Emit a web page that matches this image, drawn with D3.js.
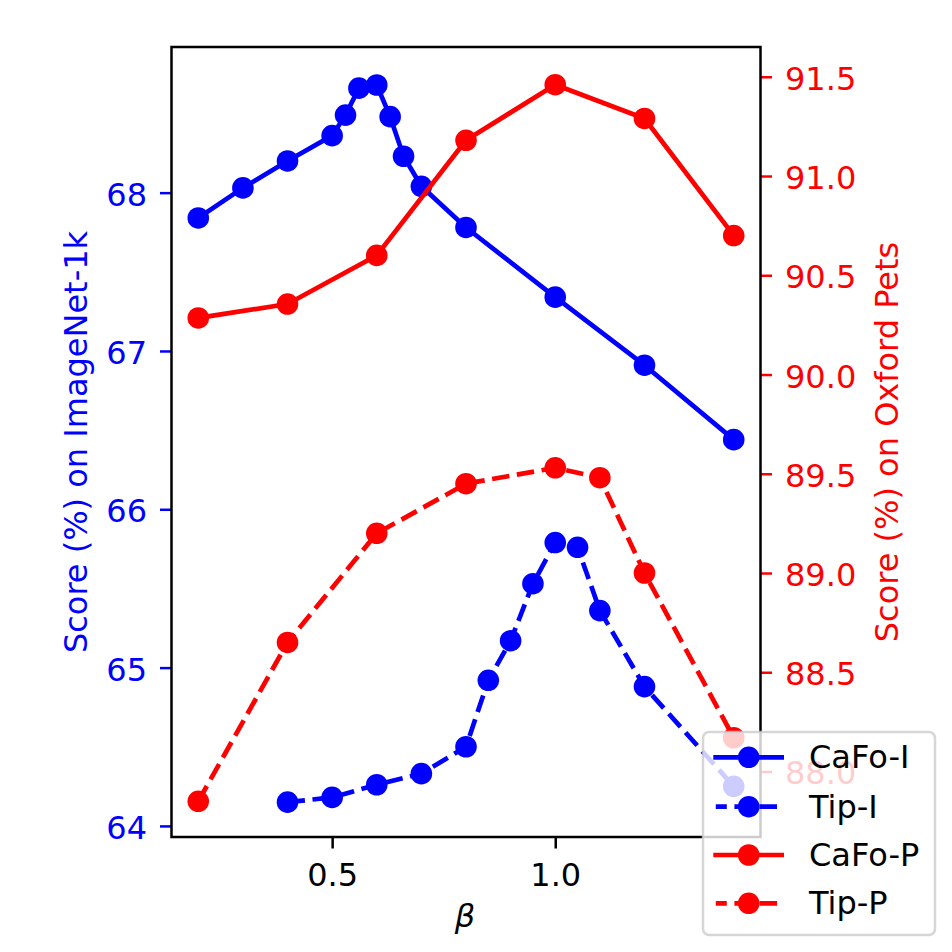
<!DOCTYPE html>
<html>
<head>
<meta charset="utf-8">
<script src="https://cdn.jsdelivr.net/npm/d3@7"></script>
<style>
  html, body { margin: 0; padding: 0; background: #fff; }
  svg { display: block; }
  text { font-family: "DejaVu Sans", sans-serif; }
</style>
</head>
<body>
<svg id="chart" width="952" height="952"></svg>
<script>
// ---- data ----
const cafoIx = [0.2, 0.3, 0.4, 0.5, 0.53, 0.56, 0.6, 0.63, 0.66, 0.7, 0.8, 1.0, 1.2, 1.4];
const cafoI  = [67.84, 68.03, 68.20, 68.36, 68.49, 68.66, 68.68, 68.48, 68.23, 68.04, 67.78, 67.34, 66.91, 66.44];
const tipIx  = [0.4, 0.5, 0.6, 0.7, 0.8, 0.85, 0.9, 0.95, 1.0, 1.05, 1.1, 1.2, 1.4];
const tipI   = [64.15, 64.18, 64.26, 64.33, 64.50, 64.92, 65.17, 65.53, 65.79, 65.76, 65.36, 64.88, 64.25];
const cafoPx = [0.2, 0.4, 0.6, 0.8, 1.0, 1.2, 1.4];
const cafoP  = [90.285, 90.355, 90.60, 91.18, 91.46, 91.29, 90.70];
const tipPx  = [0.2, 0.4, 0.6, 0.8, 1.0, 1.1, 1.2, 1.4];
const tipP   = [87.85, 88.65, 89.20, 89.45, 89.53, 89.48, 89.00, 88.17];
const xTicks = [0.5, 1.0];
const leftTicks = [64, 65, 66, 67, 68];
const rightTicks = [88.0, 88.5, 89.0, 89.5, 90.0, 90.5, 91.0, 91.5];
const legendLabels = ["CaFo-I", "Tip-I", "CaFo-P", "Tip-P"];

// ---- layout ----
const L = 171.5, R = 760.5, T = 47, B = 837;
const FS = 32;
const BLUE = "#0000ff", RED = "#ff0000";
const LW = 4.7, MR = 10.8, DASH = "17.5,7.6";

const svg = d3.select("#chart");
const x = d3.scaleLinear().domain([0.14, 1.46]).range([L, R]);
const yL = d3.scaleLinear().domain([63.93, 68.92]).range([B, T]);
const yR = d3.scaleLinear().domain([87.67, 91.65]).range([B, T]);

const series = [
  {xs: cafoIx, ys: cafoI, y: yL, color: BLUE, dash: null},
  {xs: tipIx,  ys: tipI,  y: yL, color: BLUE, dash: DASH},
  {xs: cafoPx, ys: cafoP, y: yR, color: RED,  dash: null},
  {xs: tipPx,  ys: tipP,  y: yR, color: RED,  dash: DASH}
];

const plot = svg.append("g");
series.forEach(s => {
  const pts = s.xs.map((v, i) => [v, s.ys[i]]);
  const line = d3.line().x(d => x(d[0])).y(d => s.y(d[1]));
  plot.append("path")
    .attr("d", line(pts))
    .attr("fill", "none")
    .attr("stroke", s.color)
    .attr("stroke-width", LW)
    .attr("stroke-linejoin", "round")
    .attr("stroke-linecap", s.dash ? "butt" : "square")
    .attr("stroke-dasharray", s.dash);
  plot.selectAll(null).data(pts).enter().append("circle")
    .attr("cx", d => x(d[0]))
    .attr("cy", d => s.y(d[1]))
    .attr("r", MR)
    .attr("fill", s.color);
});

// ---- axes ----
function styleAxis(g, color) {
  g.select(".domain").remove();
  g.selectAll(".tick line").attr("stroke", color).attr("stroke-width", 2.5);
  g.selectAll(".tick text").attr("fill", color).attr("font-size", FS)
    .attr("font-family", "DejaVu Sans, sans-serif");
}

const gx = svg.append("g").attr("transform", `translate(0,${B})`)
  .call(d3.axisBottom(x).tickValues(xTicks).tickFormat(d3.format(".1f")).tickSize(11.5).tickPadding(11));
styleAxis(gx, "#000");
gx.selectAll(".tick text").attr("y", 49).attr("dy", null);

const gl = svg.append("g").attr("transform", `translate(${L},0)`)
  .call(d3.axisLeft(yL).tickValues(leftTicks).tickFormat(d3.format("d")).tickSize(11.5).tickPadding(13));
styleAxis(gl, BLUE);
gl.selectAll(".tick text").attr("dy", null).attr("y", 12.5);

const gr = svg.append("g").attr("transform", `translate(${R},0)`)
  .call(d3.axisRight(yR).tickValues(rightTicks).tickFormat(d3.format(".1f")).tickSize(11.5).tickPadding(13));
styleAxis(gr, RED);
gr.selectAll(".tick text").attr("dy", null).attr("y", 12.5);

// spines
svg.append("rect").attr("x", L).attr("y", T).attr("width", R - L).attr("height", B - T)
  .attr("fill", "none").attr("stroke", "#000").attr("stroke-width", 2.5);

// axis labels
svg.append("text").attr("x", 465).attr("y", 927).attr("text-anchor", "middle")
  .attr("font-size", FS).attr("font-style", "italic").attr("fill", "#000").text("β");
svg.append("text").attr("transform", `translate(87,442) rotate(-90)`).attr("text-anchor", "middle")
  .attr("font-size", FS).attr("fill", BLUE).text("Score (%) on ImageNet-1k");
svg.append("text").attr("transform", `translate(898,442) rotate(-90)`).attr("text-anchor", "middle")
  .attr("font-size", FS).attr("fill", RED).text("Score (%) on Oxford Pets");

// ---- legend ----
const lg = svg.append("g");
lg.append("rect").attr("x", 703).attr("y", 732).attr("width", 232).attr("height", 203)
  .attr("rx", 6).attr("ry", 6)
  .attr("fill", "#ffffff").attr("fill-opacity", 0.8)
  .attr("stroke", "#cccccc").attr("stroke-opacity", 0.8).attr("stroke-width", 2.5);
const rowY = [757.3, 806.7, 855, 903.3];
series.forEach((s, i) => {
  const cy = rowY[i];
  lg.append("line").attr("x1", 713.3).attr("x2", 784).attr("y1", cy).attr("y2", cy)
    .attr("stroke", s.color).attr("stroke-width", LW)
    .attr("stroke-dasharray", s.dash ? "11,7.6,17.5,7.6,17.5,7.6" : null)
    .attr("stroke-dashoffset", s.dash ? -2.5 : null);
  lg.append("circle").attr("cx", 748.7).attr("cy", cy).attr("r", MR).attr("fill", s.color);
  lg.append("text").attr("x", 809).attr("y", cy + 11).attr("font-size", FS)
    .attr("fill", "#000").text(legendLabels[i]);
});
</script>
</body>
</html>
